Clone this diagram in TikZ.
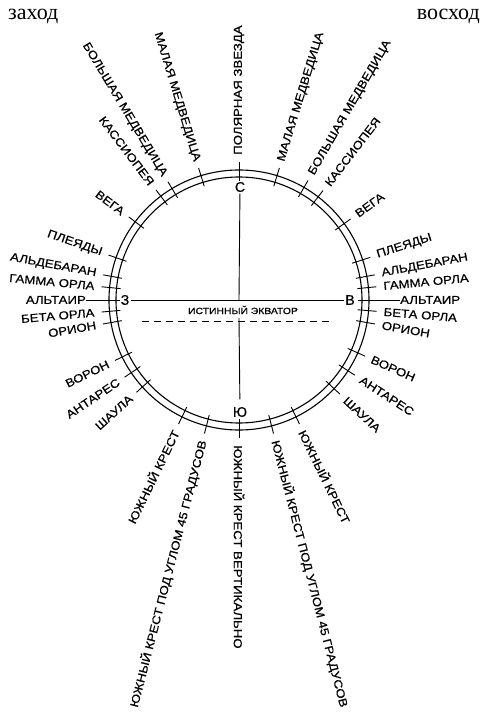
\documentclass[tikz,border=0pt]{standalone}
\usepackage{fontspec}
\setmainfont{Liberation Sans}
\newfontfamily\labfont[FakeStretch=1.15,FakeBold=0.6]{Liberation Sans}
\newfontfamily\cardfont[FakeBold=0.5]{Liberation Sans}
\newfontfamily\serfont{Liberation Serif}
\begin{document}
\begin{tikzpicture}[x=1pt,y=1pt,
  lab/.style={font=\labfont\fontsize{11.5}{12}\selectfont, inner sep=0pt},
  small/.style={font=\labfont\fontsize{9}{10}\selectfont, inner sep=0pt},
  cardinal/.style={font=\cardfont\fontsize{14}{14}\selectfont, inner sep=1.5pt},
  corner/.style={font=\serfont\fontsize{22}{22}\selectfont, inner sep=0pt},
  ring/.style={line width=1.1pt},
  tickline/.style={line width=0.9pt},
  axis/.style={line width=0.9pt}]
\useasboundingbox (-239,-423) rectangle (242,300);

% ring
\draw[ring] (0,0) circle[radius=130pt];
\draw[ring] (0,0) circle[radius=123pt];

% ticks
\foreach \a in {90,73,60,52.5,36,18,10.5,5.5,-4.7,-10,-24,-33,-43,-64,-75.5,-90,
                107,121,127,143,161,169.5,174.5,185,190,206,214,222,244,255.5}
  \draw[tickline] (\a:119) -- (\a:138);

% right-hand labels
\foreach \a/\t [count=\i] in {90/ПОЛЯРНАЯ ЗВЕЗДА, 73/МАЛАЯ МЕДВЕДИЦА, 60/БОЛЬШАЯ МЕДВЕДИЦА,
   52.5/КАССИОПЕЯ, 36/ВЕГА, 18/ПЛЕЯДЫ, 10.5/АЛЬДЕБАРАН, 5.5/ГАММА ОРЛА,
   -4.7/БЕТА ОРЛА, -10/ОРИОН, -24/ВОРОН, -33/АНТАРЕС, -43/ШАУЛА,
   -64/ЮЖНЫЙ КРЕСТ, -75.5/ЮЖНЫЙ КРЕСТ ПОД УГЛОМ 45 ГРАДУСОВ,
   -90/ЮЖНЫЙ КРЕСТ ВЕРТИКАЛЬНО}
  \node[lab, anchor=west, rotate=\a] (r\i) at (\a:145) {\t};

% left-hand labels
\foreach \a/\t [count=\i] in {107/МАЛАЯ МЕДВЕДИЦА, 121/БОЛЬШАЯ МЕДВЕДИЦА,
   127/КАССИОПЕЯ, 143/ВЕГА, 161/ПЛЕЯДЫ, 169.5/АЛЬДЕБАРАН, 174.5/ГАММА ОРЛА,
   185/БЕТА ОРЛА, 190/ОРИОН, 206/ВОРОН, 214/АНТАРЕС, 222/ШАУЛА,
   244/ЮЖНЫЙ КРЕСТ, 255.5/ЮЖНЫЙ КРЕСТ ПОД УГЛОМ 45 ГРАДУСОВ}
  \node[lab, anchor=east, rotate=\a-180] (l\i) at (\a:145) {\t};

% Altair (longer ticks)
\node[lab, anchor=west] (altR) at (0:161) {АЛЬТАИР};
\node[lab, anchor=east] (altL) at (180:153) {АЛЬТАИР};
\coordinate (ringR) at (0:119);
\coordinate (ringL) at (180:119);
\draw[tickline] (altR.west) -- (ringR);
\draw[tickline] (altL.east) -- (ringL);

% cardinal letters
\node[cardinal] (N) at (1,113) {С};
\node[cardinal] (S) at (1,-112) {Ю};
\node[cardinal] (W) at (-114,0) {З};
\node[cardinal] (E) at (111,0) {В};

% axes
\coordinate (O) at (0,0);
\draw[axis] (W) -- (E);
\draw[axis] (N) -- (O);
\node[small] (eq) at (4,-10) {ИСТИННЫЙ ЭКВАТОР};
\coordinate (dl) at (-97,-21);
\coordinate (dr) at (94,-21);
\draw[axis, dash pattern=on 7pt off 5pt] (dl) -- (dr);
\coordinate (ds) at (0,-18);
\draw[axis, shorten >=6pt] (ds) -- (S);

% corner words
\node[corner, anchor=base west] (set) at (-231,280.5) {заход};
\node[corner, anchor=base east] (rise) at (241,280.5) {восход};
\end{tikzpicture}
\end{document}
